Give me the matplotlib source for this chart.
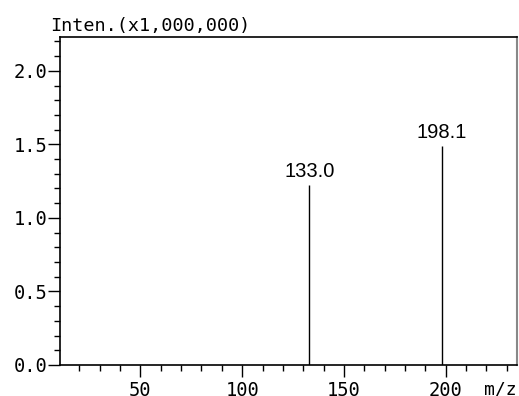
import matplotlib
matplotlib.use("Agg")
import matplotlib.pyplot as plt
from matplotlib.ticker import MultipleLocator

# peaks (m/z, intensity in units of 1,000,000)
mz = [133.0, 198.1]
inten = [1.221, 1.489]
peak_labels = ["133.0", "198.1"]

xticks = [50, 100, 150, 200]
yticks = [0.0, 0.5, 1.0, 1.5, 2.0]
ytick_labels = ["0.0", "0.5", "1.0", "1.5", "2.0"]

mono = "DejaVu Sans Mono"

fig = plt.figure(figsize=(5.19, 3.96), dpi=100)
ax = fig.add_axes([60 / 519, 31 / 396, 457 / 519, 328 / 396])

ax.vlines(mz, 0, inten, color="black", lw=1.0)
for x, y, s in zip(mz, inten, peak_labels):
    ax.annotate(s, (x, y), xytext=(0, 3), textcoords="offset points",
                ha="center", va="bottom", fontsize=14.5, family="Liberation Sans")

ax.set_xlim(10.5, 235)
ax.set_ylim(0, 2.23)

ax.set_xticks(xticks)
ax.set_yticks(yticks)
ax.set_yticklabels(ytick_labels)
ax.xaxis.set_minor_locator(MultipleLocator(10))
ax.yaxis.set_minor_locator(MultipleLocator(0.1))

ax.tick_params(which="major", direction="out", length=8.5, width=1, pad=0.5, labelsize=13.5)
ax.tick_params(which="minor", direction="out", length=4.3, width=1)
ax.tick_params(axis="x", which="major", pad=3)
ax.tick_params(top=False, right=False, which="both")
for lab in ax.get_xticklabels() + ax.get_yticklabels():
    lab.set_family(mono)

for side in ["left", "bottom", "top"]:
    ax.spines[side].set_color("black")
    ax.spines[side].set_linewidth(1.2)
ax.spines["right"].set_color("#888888")
ax.spines["right"].set_linewidth(1.5)

fig.text(50 / 519, 1 - 35 / 396, "Inten.(x1,000,000)", ha="left", va="bottom",
         fontsize=13.3, family=mono)
ax.text(1.0, -16 / 328, "m/z", transform=ax.transAxes, ha="right", va="top",
        fontsize=13, family=mono)

fig.savefig("out.png", dpi=100)
